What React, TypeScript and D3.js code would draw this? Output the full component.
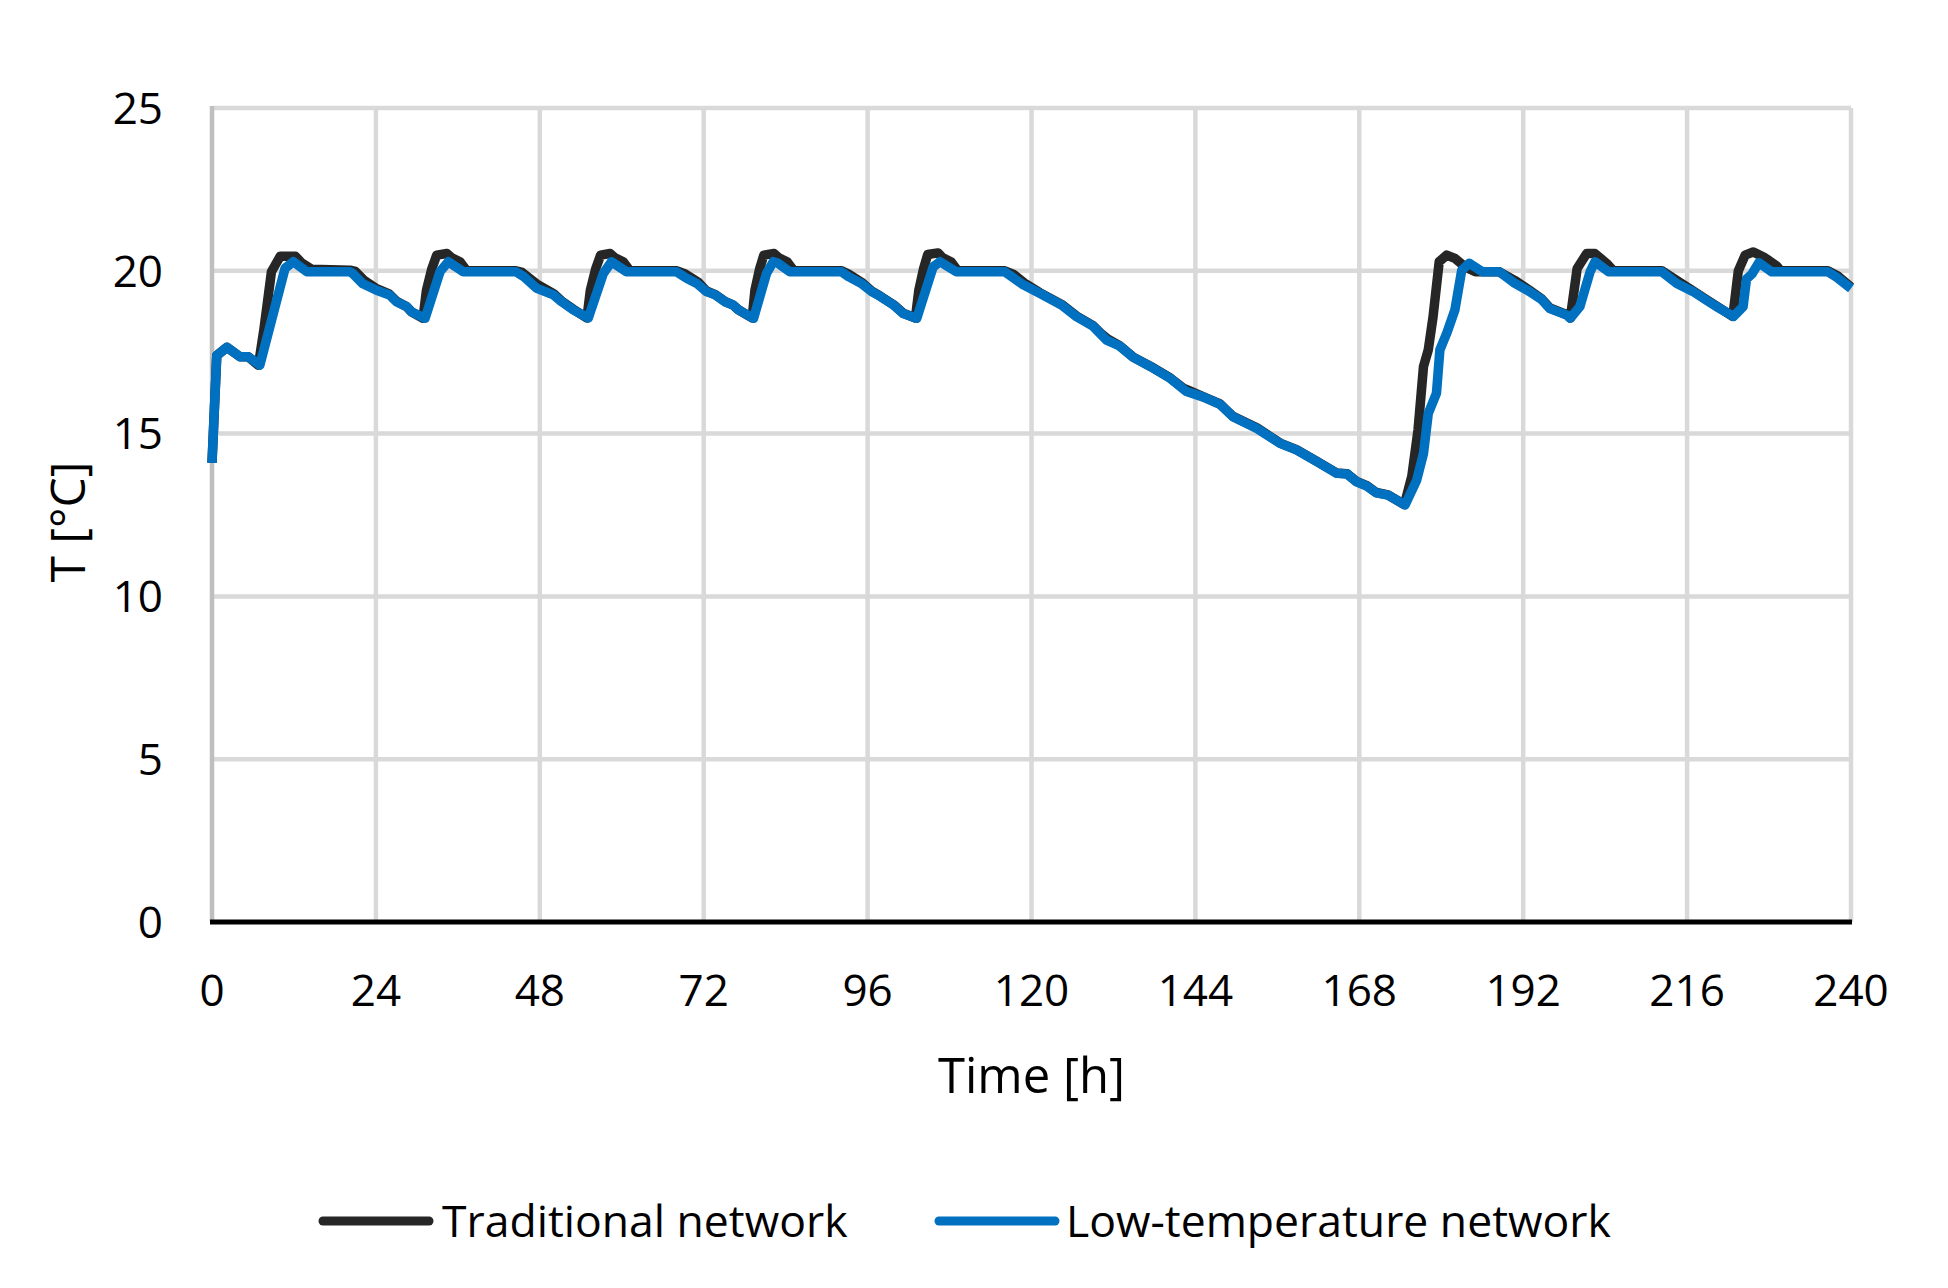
import { useMemo } from 'react'
import * as d3 from 'd3'

const WIDTH = 1948
const HEIGHT = 1288
const MARGIN = { top: 108, right: 97, bottom: 366, left: 212 }
const FONT = "'Open Sans', 'Noto Sans', sans-serif"

const X_TICKS = [0, 24, 48, 72, 96, 120, 144, 168, 192, 216, 240]
const Y_TICKS = [0, 5, 10, 15, 20, 25]

const SERIES_NAMES = ['Traditional network', 'Low-temperature network']
const SERIES_COLORS = ['#262626', '#0070C0']

// [time h, temperature °C]
const traditional: [number, number][] = [
  [0, 14.1], [0.7, 17.4], [2.2, 17.65], [4.1, 17.36], [5.3, 17.36], [6.8, 17.1],
  [7.6, 18.2], [8.7, 19.97], [10.0, 20.45], [12.2, 20.45], [13.1, 20.25], [14.6, 20.05],
  [20.2, 20.02], [21.0, 19.98], [22.3, 19.7], [24.1, 19.45], [26.0, 19.28], [27.0, 19.07],
  [28.5, 18.9], [29.2, 18.74], [30.9, 18.54],
  [31.4, 19.4], [32.2, 20.07], [32.9, 20.48], [34.4, 20.53], [35.1, 20.4], [36.3, 20.28],
  [37.3, 20.0], [44.5, 20.0], [45.4, 19.95], [47.5, 19.6], [50.0, 19.3], [51.2, 19.07],
  [52.9, 18.82], [54.9, 18.55],
  [55.4, 19.4], [56.2, 20.07], [56.9, 20.48], [58.3, 20.53], [59.0, 20.4], [60.2, 20.28],
  [61.2, 20.0], [68.0, 20.0], [69.3, 19.9], [71.2, 19.65], [72.4, 19.38], [73.7, 19.27],
  [75.1, 19.06], [76.3, 18.95], [77.1, 18.8], [79.1, 18.55],
  [79.5, 19.4], [80.2, 20.07], [80.8, 20.48], [82.3, 20.53], [83.0, 20.4], [84.2, 20.28],
  [85.2, 20.0], [92.2, 20.0], [93.2, 19.9], [95.1, 19.65], [96.6, 19.38], [97.8, 19.23],
  [99.8, 18.96], [101.2, 18.7], [103.0, 18.55],
  [103.5, 19.4], [104.2, 20.07], [104.8, 20.5], [106.3, 20.55], [107.0, 20.4], [108.2, 20.28],
  [109.2, 20.0], [116.1, 20.0], [117.3, 19.9], [119.0, 19.62], [121.2, 19.33], [124.4, 18.97],
  [126.6, 18.61], [129.0, 18.32], [130.3, 18.05], [131.2, 17.9], [132.9, 17.7], [134.9, 17.35],
  [137.4, 17.07], [140.3, 16.71], [142.2, 16.4], [143.1, 16.32], [145.2, 16.13], [147.6, 15.91],
  [149.5, 15.53], [153.0, 15.18], [156.4, 14.71], [158.8, 14.51], [161.8, 14.15], [164.7, 13.79],
  [166.2, 13.77], [167.6, 13.53], [169.1, 13.4], [170.5, 13.19], [172.2, 13.12], [174.6, 12.82],
  [175.7, 13.7], [176.6, 15.11], [177.4, 17.06], [178.1, 17.57], [178.8, 18.59], [179.7, 20.28],
  [180.8, 20.48], [182.0, 20.38], [183.5, 20.12], [185.0, 19.97], [188.5, 19.97], [190.8, 19.7],
  [192.8, 19.42], [194.7, 19.14], [195.9, 18.86], [198.4, 18.65], [198.9, 18.55],
  [199.9, 20.07], [201.3, 20.53], [202.5, 20.53], [204.2, 20.23], [205.2, 20.0], [212.3, 20.0],
  [214.5, 19.7], [216.9, 19.38], [218.8, 19.12], [220.3, 18.92], [222.7, 18.6],
  [223.5, 20.0], [224.5, 20.48], [225.7, 20.58], [227.4, 20.4], [229.1, 20.15], [229.7, 20.0],
  [236.6, 20.0], [238.0, 19.85], [240, 19.5]
]

const lowTemperature: [number, number][] = [
  [0, 14.1], [0.7, 17.4], [2.2, 17.65], [4.1, 17.36], [5.3, 17.36], [7.0, 17.1],
  [10.7, 20.08], [11.9, 20.28], [13.9, 19.97], [20.2, 19.97], [20.7, 19.9], [22.1, 19.6],
  [24.1, 19.4], [26.0, 19.26], [27.0, 19.05], [28.5, 18.9], [29.2, 18.74], [31.2, 18.54],
  [33.4, 19.98], [34.6, 20.28], [36.8, 19.97], [44.5, 19.97], [45.6, 19.83], [47.5, 19.47],
  [50.0, 19.26], [51.2, 19.05], [52.9, 18.8], [55.1, 18.55],
  [57.3, 19.92], [58.5, 20.28], [60.7, 19.97], [68.0, 19.97], [69.5, 19.77], [71.0, 19.61],
  [72.4, 19.36], [73.7, 19.26], [75.1, 19.05], [76.3, 18.95], [77.1, 18.8], [79.3, 18.54],
  [81.2, 19.92], [82.2, 20.28], [82.9, 20.23], [84.6, 19.97], [92.2, 19.97], [93.2, 19.82],
  [95.1, 19.61], [96.6, 19.36], [97.8, 19.22], [99.8, 18.95], [101.2, 18.69], [103.2, 18.54],
  [105.6, 20.12], [106.6, 20.28], [109.0, 19.97], [116.1, 19.97], [117.1, 19.82], [118.8, 19.57],
  [121.2, 19.31], [124.4, 18.95], [126.6, 18.59], [129.0, 18.3], [131.0, 17.87], [132.9, 17.69],
  [134.9, 17.34], [137.4, 17.06], [140.3, 16.7], [142.7, 16.29], [145.2, 16.12], [147.6, 15.9],
  [149.5, 15.52], [153.0, 15.16], [156.4, 14.7], [158.8, 14.5], [161.8, 14.14], [164.7, 13.78],
  [166.2, 13.76], [167.6, 13.52], [169.1, 13.39], [170.5, 13.18], [172.2, 13.11], [174.7, 12.81],
  [176.4, 13.57], [177.4, 14.39], [178.1, 15.62], [179.3, 16.24], [179.8, 17.57], [180.8, 18.08],
  [182.0, 18.8], [183.0, 20.02], [184.1, 20.23], [186.0, 19.97], [188.5, 19.97], [190.6, 19.64],
  [192.8, 19.38], [194.7, 19.12], [195.9, 18.84], [198.4, 18.64], [198.9, 18.54],
  [200.3, 18.9], [201.8, 19.97], [202.5, 20.28], [204.5, 19.97], [212.3, 19.97], [214.5, 19.61],
  [216.9, 19.36], [218.8, 19.1], [220.3, 18.9], [222.8, 18.6],
  [224.2, 18.9], [224.7, 19.75], [225.5, 19.9], [226.5, 20.25], [228.4, 19.97], [236.6, 19.97],
  [237.9, 19.8], [240, 19.46]
]

export default function App() {
  const innerWidth = WIDTH - MARGIN.left - MARGIN.right
  const innerHeight = HEIGHT - MARGIN.top - MARGIN.bottom

  const x = useMemo(() => d3.scaleLinear().domain([0, 240]).range([0, innerWidth]), [innerWidth])
  const y = useMemo(() => d3.scaleLinear().domain([0, 25]).range([innerHeight, 0]), [innerHeight])

  const line = d3.line<[number, number]>()
    .x(d => x(d[0]))
    .y(d => y(d[1]))

  const series = [traditional, lowTemperature]

  // legend entries: sample line start/end, text start
  const legend = [
    { x0: 323, x1: 429, tx: 442 },
    { x0: 939, x1: 1055, tx: 1066 }
  ]

  return (
    <svg
      width={WIDTH}
      height={HEIGHT}
      style={{ position: 'absolute', left: 0, top: 0, background: '#fff' }}
      fontFamily={FONT}
    >
      <rect width={WIDTH} height={HEIGHT} fill="#fff" />
      <g transform={`translate(${MARGIN.left},${MARGIN.top})`}>
        {/* horizontal gridlines */}
        {Y_TICKS.filter(t => t > 0).map(t => (
          <line key={`hy-${t}`} x1={0} x2={innerWidth} y1={y(t)} y2={y(t)} stroke="#D9D9D9" strokeWidth={4.5} />
        ))}
        {/* vertical gridlines */}
        {X_TICKS.filter(t => t > 0).map(t => (
          <line key={`vx-${t}`} x1={x(t)} x2={x(t)} y1={0} y2={innerHeight} stroke="#D9D9D9" strokeWidth={4.5} />
        ))}
        {/* y axis */}
        <line x1={0} x2={0} y1={y(25) - 2} y2={innerHeight} stroke="#BFBFBF" strokeWidth={4.5} />

        {/* series */}
        {series.map((s, i) => (
          <path
            key={SERIES_NAMES[i]}
            d={line(s) ?? ''}
            fill="none"
            stroke={SERIES_COLORS[i]}
            strokeWidth={9.5}
            strokeLinejoin="round"
            strokeLinecap="butt"
          />
        ))}

        {/* x axis */}
        <line x1={-2} x2={innerWidth + 1} y1={innerHeight} y2={innerHeight} stroke="#000" strokeWidth={5} />

        {/* tick labels */}
        {Y_TICKS.map(t => (
          <text key={`yl-${t}`} x={-49} y={y(t)} dy="0.36em" textAnchor="end" fontSize={44} fill="#000">
            {t}
          </text>
        ))}
        {X_TICKS.map(t => (
          <text key={`xl-${t}`} x={x(t)} y={innerHeight + 68} dy="0.36em" textAnchor="middle" fontSize={44} fill="#000">
            {t}
          </text>
        ))}

        {/* axis titles */}
        <text x={innerWidth / 2} y={innerHeight + 153} dy="0.36em" textAnchor="middle" fontSize={49} fill="#000">
          Time [h]
        </text>
        <text
          transform={`translate(${68 - MARGIN.left},${522 - MARGIN.top}) rotate(-90)`}
          dy="0.36em"
          textAnchor="middle"
          fontSize={48}
          fill="#000"
        >
          T [°C]
        </text>
      </g>

      {/* legend */}
      {legend.map((l, i) => (
        <g key={`lg-${i}`}>
          <line x1={l.x0} x2={l.x1} y1={1221} y2={1221} stroke={SERIES_COLORS[i]} strokeWidth={9} strokeLinecap="round" />
          <text x={l.tx} y={1221} dy="0.36em" fontSize={44.5} fill="#000">
            {SERIES_NAMES[i]}
          </text>
        </g>
      ))}
    </svg>
  )
}
